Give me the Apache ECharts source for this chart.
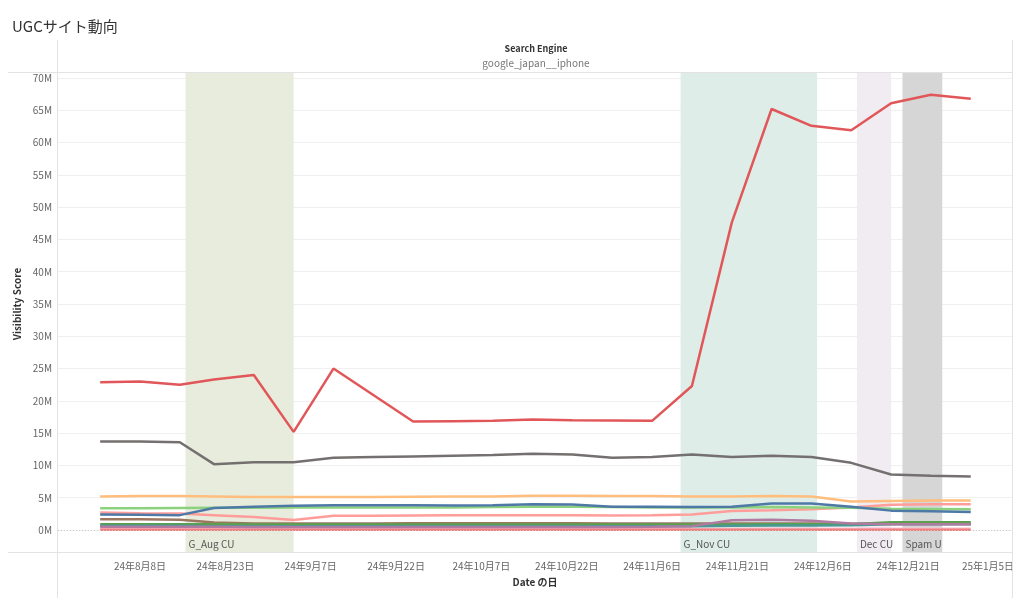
<!DOCTYPE html>
<html>
<head>
<meta charset="utf-8">
<script src="https://cdn.jsdelivr.net/npm/echarts@6/dist/echarts.min.js"></script>
<style>
html,body{margin:0;padding:0;background:#fff;}
#chart{width:1024px;height:604px;}
</style>
</head>
<body>
<div id="chart"></div>
<script>
// ---- data ----
const dates = ['2024-08-01','2024-08-08','2024-08-15','2024-08-21','2024-08-28','2024-09-04','2024-09-11','2024-09-18','2024-09-25','2024-10-02','2024-10-09','2024-10-16','2024-10-23','2024-10-30','2024-11-06','2024-11-13','2024-11-20','2024-11-27','2024-12-04','2024-12-11','2024-12-18','2024-12-25','2025-01-01'];
const tickDates = ['2024-08-08','2024-08-23','2024-09-07','2024-09-22','2024-10-07','2024-10-22','2024-11-06','2024-11-21','2024-12-06','2024-12-21','2025-01-05'];
const tickLabels = ['24年8月8日','24年8月23日','24年9月7日','24年9月22日','24年10月7日','24年10月22日','24年11月6日','24年11月21日','24年12月6日','24年12月21日','25年1月5日'];
const yTicks = [0,5,10,15,20,25,30,35,40,45,50,55,60,65,70];

const siteRed    = [22.9,23.0,22.5,23.3,24.0,15.2,25.0,20.9,16.8,16.85,16.9,17.1,17.0,16.95,16.9,22.3,47.6,65.2,62.6,61.9,66.1,67.4,66.8];
const siteGray   = [13.7,13.7,13.6,10.2,10.5,10.5,11.2,11.3,11.4,11.5,11.6,11.8,11.7,11.2,11.3,11.7,11.3,11.5,11.3,10.4,8.6,8.4,8.3];
const siteOrange = [5.2,5.25,5.25,5.2,5.1,5.1,5.1,5.1,5.15,5.2,5.2,5.3,5.3,5.25,5.25,5.2,5.2,5.25,5.2,4.4,4.5,4.55,4.55];
const siteLGreen = [3.35,3.35,3.4,3.45,3.45,3.5,3.5,3.5,3.5,3.5,3.55,3.6,3.6,3.55,3.5,3.5,3.5,3.55,3.5,3.45,3.3,3.25,3.2];
const siteBlue   = [2.4,2.35,2.3,3.4,3.6,3.75,3.85,3.85,3.85,3.8,3.85,4.0,3.95,3.6,3.6,3.55,3.6,4.1,4.1,3.6,3.0,2.9,2.8];
const sitePink   = [2.7,2.6,2.55,2.3,2.0,1.55,2.2,2.2,2.25,2.3,2.3,2.3,2.3,2.25,2.3,2.4,2.95,3.05,3.2,3.5,3.9,4.0,4.0];
const siteBrown  = [1.65,1.65,1.6,1.15,1.0,1.0,1.0,1.0,1.05,1.05,1.05,1.05,1.05,1.0,1.0,1.0,1.0,1.0,1.0,0.95,0.95,0.95,0.95];
const siteGreen  = [0.9,0.9,0.9,0.9,0.85,0.85,0.85,0.85,0.85,0.85,0.85,0.85,0.85,0.85,0.85,0.85,0.85,0.9,0.9,0.9,1.2,1.2,1.2];
const siteTeal   = [0.65,0.65,0.65,0.6,0.6,0.6,0.6,0.6,0.6,0.6,0.6,0.6,0.6,0.6,0.6,0.6,0.65,0.7,0.7,0.75,0.9,0.9,0.9];
const sitePurple = [0.5,0.5,0.5,0.5,0.45,0.45,0.45,0.45,0.45,0.45,0.45,0.45,0.45,0.45,0.5,0.6,1.5,1.6,1.45,1.0,0.9,0.9,0.9];
const siteLPink  = [0.2,0.2,0.2,0.15,0.15,0.15,0.15,0.15,0.15,0.15,0.15,0.15,0.15,0.15,0.15,0.15,0.15,0.2,0.2,0.2,0.2,0.2,0.2];
const siteLRed   = [0.05,0.05,0.05,0.05,0.05,0.05,0.05,0.05,0.05,0.05,0.05,0.05,0.05,0.05,0.05,0.05,0.05,0.05,0.05,0.05,0.05,0.05,0.05];

const bands = [
  {name:'G_Aug CU', from:'2024-08-16', to:'2024-09-04', color:'#e8ecdc'},
  {name:'G_Nov CU', from:'2024-11-11', to:'2024-12-05', color:'#deede8'},
  {name:'Dec CU',   from:'2024-12-12', to:'2024-12-18', color:'#f1ebf2'},
  {name:'Spam U',   from:'2024-12-20', to:'2024-12-27', color:'#d6d6d6'}
];

// ---- helpers ----
const base = Date.parse('2024-08-08');
const dayOf = s => (Date.parse(s) - base) / 86400000;
const xMin = -14.41, xMax = 153.25;
const tickDays = tickDates.map(dayOf);

const lineDefs = [
  ['lpink', siteLPink, '#fabfd2'],
  ['lred', siteLRed, '#f08080'],
  ['brown', siteBrown, '#9d7660'],
  ['green', siteGreen, '#59a14f'],
  ['teal', siteTeal, '#499894'],
  ['purple', sitePurple, '#b07aa1'],
  ['pink', sitePink, '#ff9d9a'],
  ['lgreen', siteLGreen, '#8cd17d'],
  ['blue', siteBlue, '#4e79a7'],
  ['orange', siteOrange, '#ffbe7d'],
  ['gray', siteGray, '#757070'],
  ['red', siteRed, '#e15759']
];

const FONT = '"Noto Sans CJK JP","Noto Sans",sans-serif';

const series = [{
  name:'bands', type:'line', xAxisIndex:1, yAxisIndex:1, silent:true, z:0,
  data:[[xMin,0],[xMax,0]], symbol:'none', lineStyle:{width:0, opacity:0},
  markArea:{
    silent:true,
    label:{show:true, position:'insideBottomLeft', distance:3, fontSize:10, color:'#555', fontFamily:FONT},
    data: bands.map(b => [
      {name:b.name, xAxis:dayOf(b.from), yAxis:0, itemStyle:{color:b.color}},
      {xAxis:dayOf(b.to), yAxis:1}
    ])
  }
}];
lineDefs.forEach(([n, vals, c], i) => {
  const s = {
    name:n, type:'line', xAxisIndex:0, yAxisIndex:0, z:2+i,
    data: vals.map((v,k) => [dayOf(dates[k]), v]),
    symbol:'none', smooth:false,
    lineStyle:{color:c, width:2.5}, itemStyle:{color:c}
  };
  if (i === 0) {
    s.markLine = {silent:true, symbol:'none', label:{show:false},
      lineStyle:{color:'#c8c8c8', type:[1,2], width:1}, data:[{yAxis:0}]};
  }
  series.push(s);
});

const chart = echarts.init(document.getElementById('chart'));
chart.setOption({
  backgroundColor:'#fff',
  animation:false,
  textStyle:{fontFamily:FONT},
  title:{text:'UGCサイト動向', left:7, top:14, textStyle:{fontSize:15, fontWeight:'normal', color:'#333', fontFamily:FONT}},
  grid:[
    {left:58, right:12, top:78, bottom:74},
    {left:58, right:12, top:72, bottom:52}
  ],
  xAxis:[
    {type:'value', gridIndex:0, min:xMin, max:xMax, show:false, splitLine:{show:false}},
    {type:'value', gridIndex:1, min:xMin, max:xMax,
     axisLine:{show:false}, axisTick:{show:false}, splitLine:{show:false},
     axisLabel:{customValues:tickDays, color:'#666', fontSize:10, margin:9, fontFamily:FONT,
       rich:{last:{color:'#666', fontSize:10, fontFamily:FONT, padding:[0,11,0,0]}},
       formatter: v => {
         const i = tickDays.findIndex(d => Math.abs(d - v) < 0.01);
         if (i < 0) return '';
         return i === tickLabels.length - 1 ? '{last|' + tickLabels[i] + '}' : tickLabels[i];
       }},
     name:'Date の日', nameLocation:'middle', nameGap:25,
     nameTextStyle:{fontSize:10, fontWeight:'bold', color:'#333', fontFamily:FONT}}
  ],
  yAxis:[
    {type:'value', gridIndex:0, min:0, max:70, interval:5,
     axisLine:{show:false}, axisTick:{show:false},
     axisLabel:{color:'#666', fontSize:10, margin:6, formatter: v => yTicks.includes(v) ? v + 'M' : '', fontFamily:FONT},
     splitLine:{lineStyle:{color:'#f0f0f0', width:1}},
     name:'Visibility Score', nameLocation:'middle', nameGap:31,
     nameTextStyle:{fontSize:10, fontWeight:'bold', color:'#333', fontFamily:FONT}},
    {type:'value', gridIndex:1, min:0, max:1, show:false, splitLine:{show:false}}
  ],
  graphic:[
    {type:'line', shape:{x1:57.5, y1:40, x2:57.5, y2:598}, style:{stroke:'#e3e3e3', lineWidth:1}, z:100},
    {type:'line', shape:{x1:1012.5, y1:40, x2:1012.5, y2:598}, style:{stroke:'#e3e3e3', lineWidth:1}, z:100},
    {type:'line', shape:{x1:8, y1:72.5, x2:1013, y2:72.5}, style:{stroke:'#e3e3e3', lineWidth:1}, z:100},
    {type:'line', shape:{x1:8, y1:552.5, x2:1013, y2:552.5}, style:{stroke:'#e3e3e3', lineWidth:1}, z:100},
    {type:'text', x:536, y:44, style:{text:'Search Engine', fontSize:9, fontWeight:'bold', fill:'#333', fontFamily:FONT, align:'center'}, z:100},
    {type:'text', x:536, y:58, style:{text:'google_japan__iphone', fontSize:10, fill:'#777', fontFamily:FONT, align:'center'}, z:100}
  ],
  series: series
});
</script>
</body>
</html>
